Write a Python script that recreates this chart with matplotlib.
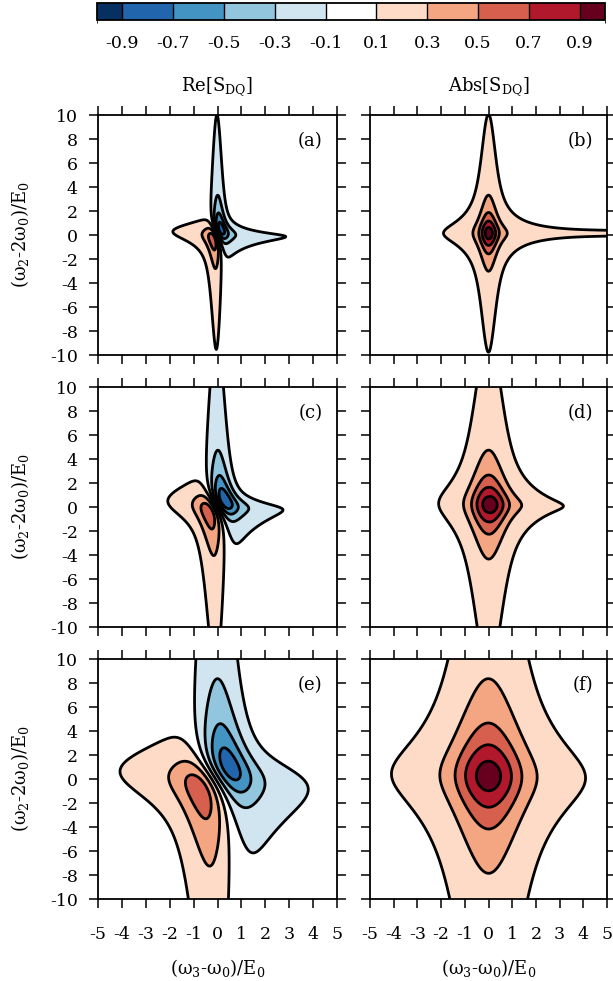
import numpy as np
import matplotlib
matplotlib.use("Agg")
import matplotlib.pyplot as plt
from matplotlib.colors import ListedColormap, BoundaryNorm

plt.rcParams["font.family"] = ["DejaVu Serif"]
plt.rcParams["mathtext.default"] = "regular"
plt.rcParams["axes.unicode_minus"] = False

# contour levels and fill colours (RdBu, 11 classes)
levels = [-1.0, -0.9, -0.7, -0.5, -0.3, -0.1, 0.1, 0.3, 0.5, 0.7, 0.9, 1.0]
fill_colors = ["#053061", "#2166ac", "#4393c3", "#92c5de", "#d1e5f0", "#ffffff",
               "#fddbc7", "#f4a582", "#d6604d", "#b2182b", "#67001f"]
cbar_ticks = [-0.9, -0.7, -0.5, -0.3, -0.1, 0.1, 0.3, 0.5, 0.7, 0.9]

# lineshape parameters for the three rows (units of E0)
sigma_inh = [0.15, 0.33, 0.66]   # inhomogeneous width along w3
gamma_3 = [0.10, 0.08, 0.10]     # homogeneous width along w3
gamma_2 = [1.0, 1.45, 2.55]      # width along w2
env_3 = [50.0, 2.3, 4.6]         # overall cut-off along w3
kappa = [0.25, 0.3, 0.0]         # narrowing of the w2 width for w3 > w0
tilt = [0.0, 0.04, 0.04]
shift_2 = [0.15, 0.2, 0.25]
phase = [0.25, 0.25, 0.3]        # phase at w3 = w0
phase_slope = [0.3, 0.28, 0.12]  # phase change per unit of w3

row_labels = [("(a)", "(b)"), ("(c)", "(d)"), ("(e)", "(f)")]

w3 = np.linspace(-5, 5, 401)
w2 = np.linspace(-10, 10, 401)
X, Y = np.meshgrid(w3, w2)


def dq_signal(i):
    s = sigma_inh[i]
    d = np.linspace(-4 * s, 4 * s, 161)
    wt = np.exp(-d**2 / (2 * s**2))
    wt /= wt.sum()
    W = (wt / (w3[:, None] - d[None, :] + 1j * gamma_3[i])).sum(axis=1)
    W *= np.exp(-w3**2 / (2 * env_3[i]**2))
    yp = Y - shift_2[i] + tilt[i] * X
    g2 = gamma_2[i] * np.exp(-kappa[i] * np.clip(X, 0, None))
    S = W[None, :] / (yp + 1j * g2)
    S = S * np.exp(1j * (phase[i] + phase_slope[i] * X))
    norm = np.abs(S).max()
    re = np.real(-1j * S) / norm
    ab = np.abs(S) / norm
    return re, ab


cmap = ListedColormap(fill_colors)
cnorm = BoundaryNorm(levels, cmap.N)

fig = plt.figure(figsize=(6.13, 9.81), dpi=100)
W_, H_ = 613.0, 981.0
col_x = [98, 370]
col_w = [239, 237]
row_top = [115, 387, 659]
ax_h = 240

for i in range(3):
    re, ab = dq_signal(i)
    for j, Z in enumerate([re, ab]):
        ax = fig.add_axes([col_x[j] / W_, 1 - (row_top[i] + ax_h) / H_,
                           col_w[j] / W_, ax_h / H_])
        Zc = np.clip(Z, -0.9999, 0.9999)
        ax.contourf(w3, w2, Zc, levels=levels, cmap=cmap, norm=cnorm)
        ax.contour(w3, w2, Zc, levels=levels[1:-1], colors="k", linewidths=2,
                   linestyles="solid")
        ax.set_xlim(-5, 5)
        ax.set_ylim(-10, 10)
        ax.set_xticks(np.arange(-5, 6, 1))
        ax.set_yticks(np.arange(-10, 11, 2))
        ax.tick_params(direction="out", length=6.5, width=1.1, top=True, right=True,
                       labelsize=12.5)
        ax.tick_params(axis="x", pad=13)
        ax.tick_params(axis="y", pad=8)
        for sp in ax.spines.values():
            sp.set_linewidth(1.3)
        if j == 1:
            ax.tick_params(labelleft=False)
        else:
            ax.set_ylabel("(ω$_2$-2ω$_0$)/E$_0$", fontsize=13)
            ax.yaxis.set_label_coords(-67 / 239, 0.5)
        if i < 2:
            ax.tick_params(labelbottom=False)
        else:
            ax.set_xlabel("(ω$_3$-ω$_0$)/E$_0$", fontsize=13)
            ax.xaxis.set_label_coords(0.5, -58 / 240)
        ax.text(0.94, 0.89, row_labels[i][j], transform=ax.transAxes,
                ha="right", va="center", fontsize=13)

fig.text((98 + 239 / 2) / W_, 1 - 87 / H_, "Re[S$_{DQ}$]", ha="center", va="center",
         fontsize=13)
fig.text((370 + 237 / 2) / W_, 1 - 87 / H_, "Abs[S$_{DQ}$]", ha="center", va="center",
         fontsize=13)

cax = fig.add_axes([97 / W_, 1 - 20 / H_, 508 / W_, 17 / H_])
sm = plt.cm.ScalarMappable(cmap=cmap, norm=cnorm)
cb = fig.colorbar(sm, cax=cax, orientation="horizontal", spacing="proportional",
                  ticks=cbar_ticks, drawedges=True, boundaries=levels)
cb.outline.set_linewidth(1.3)
cb.dividers.set_linewidth(1.0)
cax.tick_params(length=0, labelsize=12.5, pad=11)

fig.savefig("out.png", dpi=100)
